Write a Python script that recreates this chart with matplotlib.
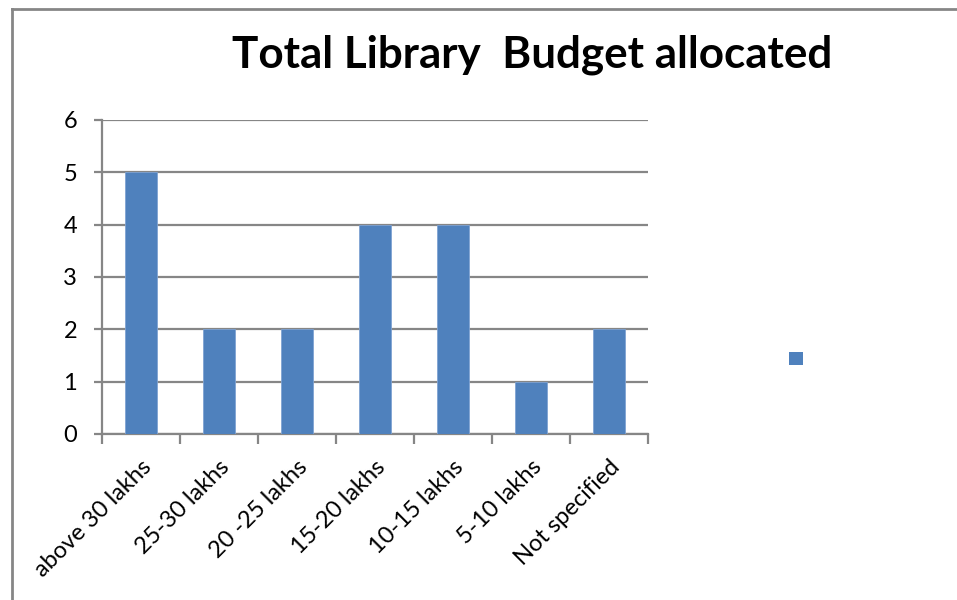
import matplotlib
matplotlib.use('Agg')
import matplotlib.pyplot as plt
from matplotlib.patches import Patch
from matplotlib.lines import Line2D
import numpy as np

categories = ['above 30 lakhs', '25-30 lakhs', '20 -25 lakhs', '15-20 lakhs',
              '10-15 lakhs', '5-10 lakhs', 'Not specified']
values = [5, 2, 2, 4, 4, 1, 2]
yticks = [0, 1, 2, 3, 4, 5, 6]

bar_color = '#4F81BD'
grey = '#868686'

plt.rcParams['font.family'] = ['Lato', 'DejaVu Sans']

fig = plt.figure(figsize=(9.57, 6.0), dpi=100)
ax = fig.add_axes([0.1066, 0.2767, 0.5705, 0.5233])

x = np.arange(len(categories))
ax.bar(x, values, width=0.41, color=bar_color, edgecolor='#7FA3D3', linewidth=0.6, zorder=3)

ax.set_xlim(-0.5, len(categories) - 0.5)
ax.set_ylim(0, 6)
ax.set_yticks(yticks)
ax.yaxis.grid(True, color=grey, linewidth=1.6, zorder=0)
ax.set_axisbelow(True)

# category labels in the middle, tick marks on the boundaries
ax.set_xticks(x)
ax.set_xticklabels(categories, rotation=45, ha='right', rotation_mode='anchor', fontsize=17)
ax.tick_params(axis='x', which='major', length=0, pad=16)
ax.set_xticks(np.arange(-0.5, len(categories)), minor=True)
ax.tick_params(axis='x', which='minor', length=7, width=1.6, color=grey, direction='out')
ax.tick_params(axis='y', length=6, width=1.6, color=grey, labelsize=17, pad=12)

for s in ['top', 'right']:
    ax.spines[s].set_visible(False)
for s in ['left', 'bottom']:
    ax.spines[s].set_color(grey)
    ax.spines[s].set_linewidth(1.6)

fig.text(0.5565, 0.908, 'Total Library  Budget allocated', ha='center', va='center',
         fontsize=31.7, fontweight='bold')

# legend with just the marker, no text
fig.legend([Patch(facecolor=bar_color)], [''], loc='center', bbox_to_anchor=(0.838, 0.402),
           frameon=False, handlelength=1.0, handleheight=1.0)

# chart frame
fig.add_artist(Line2D([0.0125, 1.0], [0.985, 0.985], color=grey, linewidth=2, transform=fig.transFigure))
fig.add_artist(Line2D([0.0125, 0.0125], [0.0, 0.985], color=grey, linewidth=2, transform=fig.transFigure))

plt.savefig('out.png', dpi=100)
